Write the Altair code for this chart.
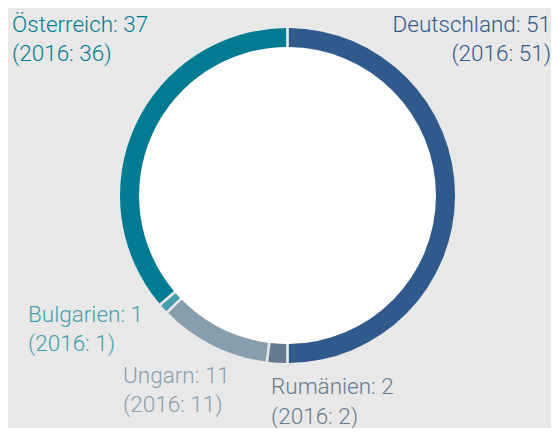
import altair as alt
import pandas as pd
import math

countries = ["Deutschland", "Rumänien", "Ungarn", "Bulgarien", "Österreich"]
values = [51, 2, 11, 1, 37]
values_2016 = [51, 2, 11, 1, 36]
colors = ["#305a8b", "#667b8f", "#889eac", "#459eae", "#017b92"]

df = pd.DataFrame({
    "country": countries,
    "value": values,
    "v2016": values_2016,
    "order": list(range(len(countries))),
})
df["label"] = [f"{c}: {v}\n(2016: {p})" for c, v, p in zip(countries, values, values_2016)]

CX, CY = 279.5, 187.5
R_OUT, R_IN = 167.5, 148.5

base_circle = alt.Chart(pd.DataFrame({"v": [1]})).mark_circle(
    color="white", opacity=1, strokeWidth=0
).encode(
    x=alt.value(CX), y=alt.value(CY), size=alt.value(math.pi * R_OUT ** 2)
)

donut = alt.Chart(df).mark_arc(
    innerRadius=R_IN, outerRadius=R_OUT, padAngle=0.012
).encode(
    theta=alt.Theta("value:Q", stack=True),
    order=alt.Order("order:Q"),
    color=alt.Color("country:N", scale=alt.Scale(domain=countries, range=colors), legend=None),
    x=alt.value(CX),
    y=alt.value(CY),
)

# label placement (chart coordinates): x, y, align
placements = {
    "Österreich": (4, 23.7, "left"),
    "Deutschland": (543, 23.7, "right"),
    "Bulgarien": (20, 313.7, "left"),
    "Ungarn": (115, 374.7, "left"),
    "Rumänien": (263, 386, "left"),
}

layers = [base_circle, donut]
for c, col in zip(countries, colors):
    x, y, al = placements[c]
    layers.append(
        alt.Chart(df).transform_filter(alt.datum.country == c).mark_text(
            align=al, baseline="alphabetic", fontSize=22.5, lineBreak="\n",
            lineHeight=29.5, font="Roboto", fontWeight=300
        ).encode(
            text="label:N", x=alt.value(x), y=alt.value(y), color=alt.value(col)
        )
    )

chart = alt.layer(*layers).properties(
    width=543, height=420,
    autosize=alt.AutoSizeParams(type="fit", contains="padding"),
    padding=0,
    background="#e8e8e8",
).configure_view(stroke=None)

chart.save("out.html", embed_options={"renderer": "svg", "actions": False})
